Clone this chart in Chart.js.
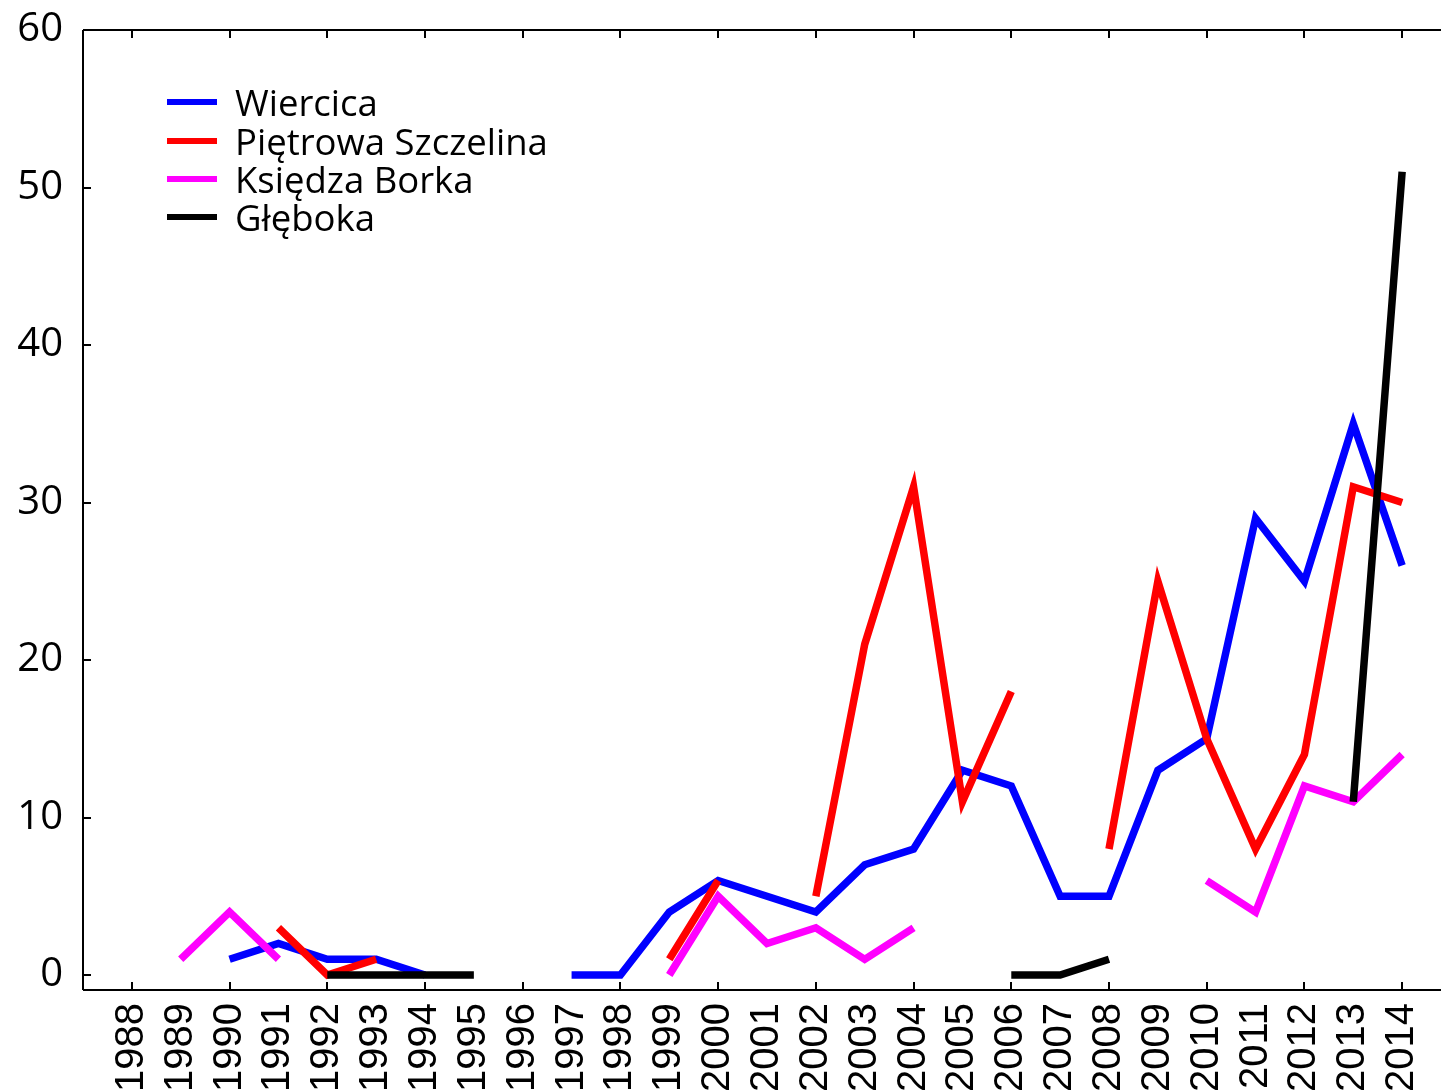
<!DOCTYPE html>
<html>
<head>
<meta charset="utf-8">
<script src="https://cdn.jsdelivr.net/npm/chart.js@4.4.1/dist/chart.umd.min.js"></script>
<style>
  html, body { margin: 0; padding: 0; background: #fff; overflow: hidden; }
  #wrap { position: relative; width: 1470px; height: 1092px; }
  #legend { position: absolute; left: 167px; top: 83px; font-family: "Open Sans", sans-serif; font-size: 36.5px; color: #000; }
  .row { display: flex; align-items: center; height: 38.4px; }
  .swatch { width: 50px; height: 6px; margin-right: 18px; }
</style>
</head>
<body>
<div id="wrap">
  <canvas id="chart" width="1470" height="1092"></canvas>
  <div id="legend"></div>
</div>
<script>
const years = [1988, 1989, 1990, 1991, 1992, 1993, 1994, 1995, 1996, 1997, 1998, 1999, 2000,
               2001, 2002, 2003, 2004, 2005, 2006, 2007, 2008, 2009, 2010, 2011, 2012, 2013, 2014];
const wiercica = [null, null, 1, 2, 1, 1, 0, null, null, 0, 0, 4, 6, 5, 4, 7, 8, 13, 12, 5, 5, 13, 15, 29, 25, 35, 26];
const pietrowa = [null, null, null, 3, 0, 1, null, null, null, null, null, 1, 6, null, 5, 21, 31, 11, 18, null, 8, 25, 15, 8, 14, 31, 30];
const ksiedza  = [null, 1, 4, 1, null, null, null, null, null, null, null, 0, 5, 2, 3, 1, 3, null, null, null, null, null, 6, 4, 12, 11, 14];
const gleboka  = [null, null, null, null, 0, 0, 0, 0, null, null, null, null, null, null, null, null, null, null, 0, 0, 1, null, null, null, null, 11, 51];
const yTicks = [0, 10, 20, 30, 40, 50, 60];
const xMarks = [1988, 1990, 1992, 1994, 1996, 1998, 2000, 2002, 2004, 2006, 2008, 2010, 2012, 2014];

const seriesNames = ['Wiercica', 'Piętrowa Szczelina', 'Księdza Borka', 'Głęboka'];
const seriesColors = ['#0000ff', '#ff0000', '#ff00ff', '#000000'];
const seriesData = [wiercica, pietrowa, ksiedza, gleboka];

const toPoints = arr => years.map((y, i) => ({ x: y, y: arr[i] }));

// html legend, sits inside the plot like the original
const legendEl = document.getElementById('legend');
seriesNames.forEach((name, i) => {
    const row = document.createElement('div');
    row.className = 'row';
    row.innerHTML = `<span class="swatch" style="background:${seriesColors[i]}"></span><span>${name}</span>`;
    legendEl.appendChild(row);
});

// frame (open on the right, it is cropped there) + inward tick marks
const framePlugin = {
    id: 'frame',
    beforeDatasetsDraw(chart) {
        const { ctx, chartArea: a, scales: { x, y } } = chart;
        ctx.save();
        ctx.strokeStyle = '#000';
        ctx.lineWidth = 2;
        ctx.beginPath();
        ctx.moveTo(a.left, a.top); ctx.lineTo(chart.width, a.top);
        ctx.moveTo(a.left, a.top); ctx.lineTo(a.left, a.bottom);
        ctx.moveTo(a.left, a.bottom); ctx.lineTo(chart.width, a.bottom);
        xMarks.forEach(v => {
            const px = Math.round(x.getPixelForValue(v));
            ctx.moveTo(px, a.bottom); ctx.lineTo(px, a.bottom - 8);
            ctx.moveTo(px, a.top); ctx.lineTo(px, a.top + 8);
        });
        yTicks.slice(0, -1).forEach(v => {
            const py = Math.round(y.getPixelForValue(v));
            ctx.moveTo(a.left, py); ctx.lineTo(a.left + 8, py);
        });
        ctx.stroke();
        ctx.restore();
    }
};

new Chart(document.getElementById('chart'), {
    type: 'line',
    data: {
        datasets: seriesData.map((arr, i) => ({
            label: seriesNames[i],
            data: toPoints(arr),
            borderColor: seriesColors[i],
            backgroundColor: seriesColors[i],
            borderWidth: 7.5,
            pointRadius: 0,
            spanGaps: false,
            tension: 0,
            order: 3 - i   // black on top, blue at the bottom
        }))
    },
    options: {
        responsive: false,
        animation: false,
        layout: { padding: { top: 30, right: 19, left: 0, bottom: 0 } },
        plugins: { legend: { display: false }, tooltip: { enabled: false } },
        scales: {
            x: {
                type: 'linear',
                min: 1987,
                max: 2015,
                grid: { display: false, drawTicks: false },
                border: { display: false },
                afterBuildTicks: scale => { scale.ticks = years.map(v => ({ value: v })); },
                afterFit: scale => {
                    scale.height = 102;
                    scale.paddingLeft = 0;
                    scale.paddingRight = 0;
                },
                ticks: {
                    autoSkip: false,
                    maxRotation: 90,
                    minRotation: 90,
                    padding: 13,
                    color: '#000',
                    font: { family: '"Liberation Sans", Arial, sans-serif', size: 40 },
                    callback: v => String(v)
                }
            },
            y: {
                min: -0.95,
                max: 60,
                grid: { display: false, drawTicks: false },
                border: { display: false },
                afterBuildTicks: scale => { scale.ticks = yTicks.map(v => ({ value: v })); },
                afterFit: scale => {
                    scale.width = 83;
                    scale.paddingTop = 0;
                    scale.paddingBottom = 0;
                },
                ticks: {
                    padding: 20,
                    color: '#000',
                    font: { family: '"Open Sans", sans-serif', size: 40 }
                }
            }
        }
    },
    plugins: [framePlugin]
});
</script>
</body>
</html>
